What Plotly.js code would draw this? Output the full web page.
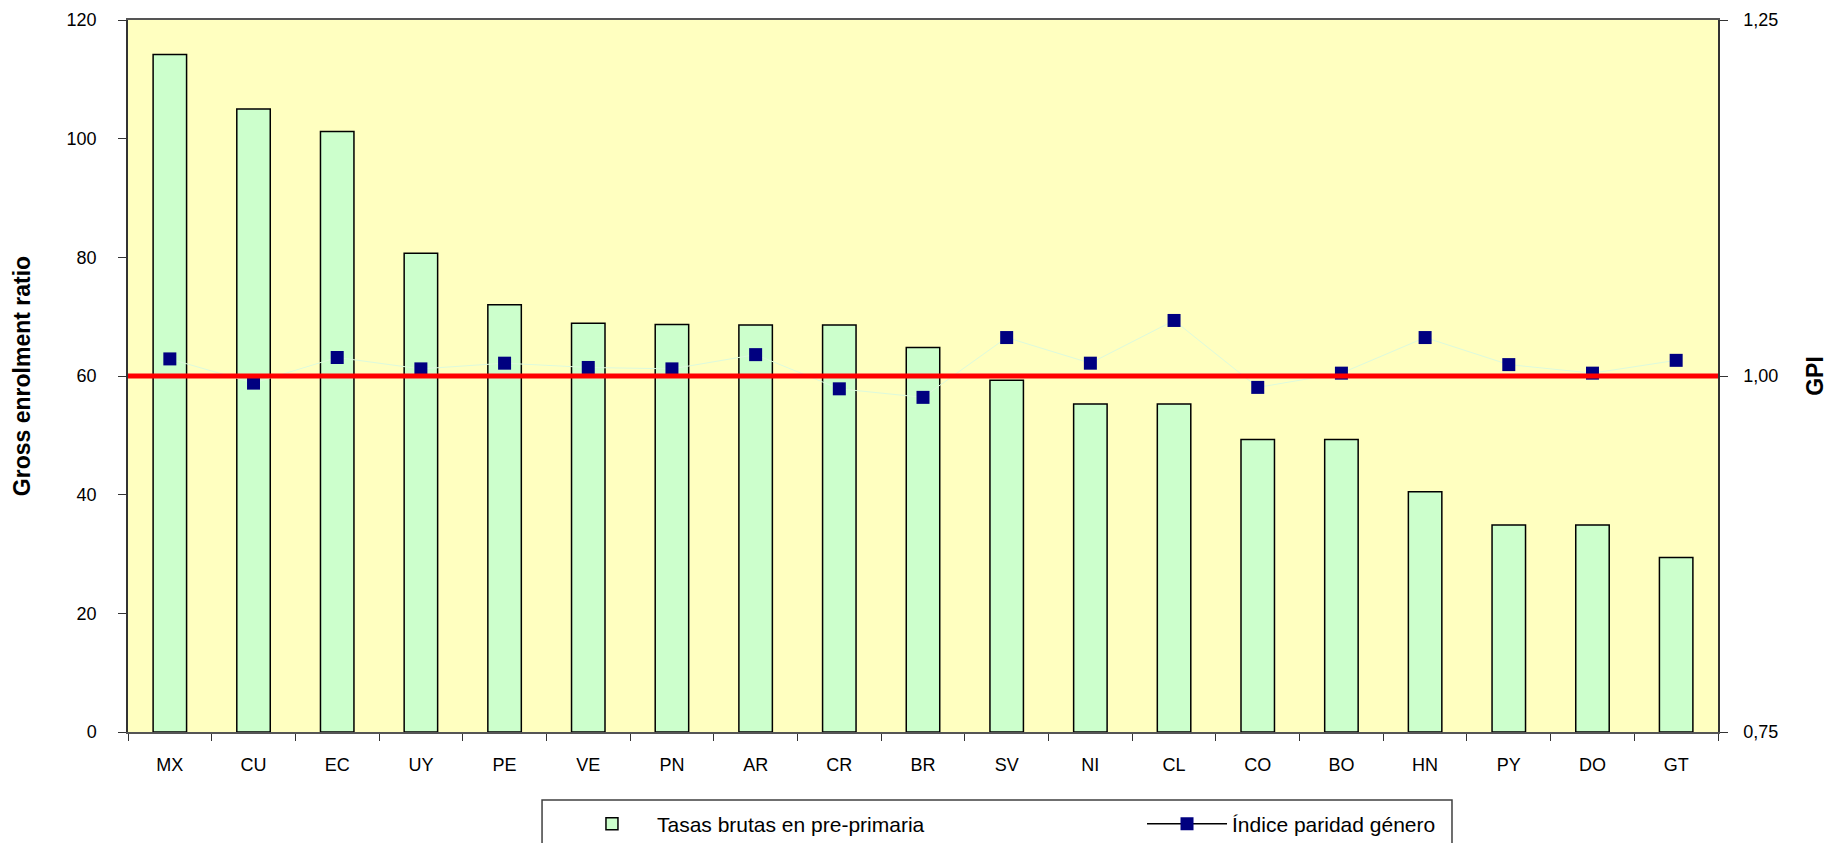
<!DOCTYPE html>
<html>
<head>
<meta charset="utf-8">
<script src="https://cdn.plot.ly/plotly-3.0.1.min.js"></script>
<style>html,body{margin:0;padding:0;background:#fff;}#chart{width:1839px;height:843px;}</style>
</head>
<body>
<div id="chart"></div>
<script>
const countries = ['MX','CU','EC','UY','PE','VE','PN','AR','CR','BR','SV','NI','CL','CO','BO','HN','PY','DO','GT'];
const enrolment = [114.2,105.0,101.2,80.7,72.0,68.9,68.7,68.6,68.6,64.8,59.3,55.3,55.3,49.3,49.3,40.5,34.9,34.9,29.4];
const gpi = [1.012,0.995,1.013,1.005,1.009,1.006,1.005,1.015,0.991,0.985,1.027,1.009,1.039,0.992,1.002,1.027,1.008,1.002,1.011];
const parityLine = 1.0;
const leftTicks = [0,20,40,60,80,100,120];
const rightTicks = [0.75,1.00,1.25];

const FONT = 'Liberation Sans, Arial, sans-serif';

const traces = [
  {
    type: 'bar', name: 'Tasas brutas en pre-primaria',
    x: countries, y: enrolment, yaxis: 'y', legend: 'legend',
    marker: {color: '#CCFFCC', line: {color: '#000000', width: 1.5}},
    hoverinfo: 'x+y'
  },
  {
    type: 'scatter', mode: 'lines+markers', name: 'Índice paridad género',
    x: countries, y: gpi, yaxis: 'y2', showlegend: false,
    line: {color: '#DDFADD', width: 1},
    marker: {symbol: 'square', size: 13, color: '#000080'}
  },
  {
    type: 'scatter', mode: 'lines+markers', name: 'Índice paridad género',
    x: [countries[0]], y: [null], yaxis: 'y2', legend: 'legend2',
    line: {color: '#000000', width: 1.5},
    marker: {symbol: 'square', size: 13, color: '#000080'}
  }
];

const legendCommon = {
  orientation: 'h', xref: 'container', yref: 'container', yanchor: 'middle', xanchor: 'left',
  bgcolor: 'rgba(0,0,0,0)', borderwidth: 0,
  font: {family: FONT, size: 21, color: '#000'}
};

const layout = {
  width: 1839, height: 843,
  margin: {l: 128, r: 121, t: 20, b: 111, autoexpand: false},
  paper_bgcolor: '#FFFFFF',
  plot_bgcolor: '#FFFFC0',
  separators: ',.',
  font: {family: FONT, size: 18, color: '#000'},
  bargap: 0.6,
  showlegend: true,
  xaxis: {
    type: 'category', categoryorder: 'array', categoryarray: countries,
    range: [-0.5, countries.length - 0.5],
    showgrid: false, zeroline: false,
    showline: true, linecolor: '#555555', linewidth: 1.5, mirror: true,
    ticks: 'outside', tickson: 'boundaries', ticklen: 7, tickcolor: '#333',
    ticklabelstandoff: 16,
    tickfont: {family: FONT, size: 18, color: '#000'}
  },
  yaxis: {
    range: [0, 120], tickvals: leftTicks, showgrid: false, zeroline: false,
    showline: true, linecolor: '#333333', linewidth: 1.5,
    ticks: 'outside', ticklen: 8, tickcolor: '#333',
    ticklabelstandoff: 18,
    tickfont: {family: FONT, size: 18, color: '#000'},
    title: {text: 'Gross enrolment ratio', standoff: 30, font: {family: FONT, size: 23, color: '#000', weight: 'bold'}}
  },
  yaxis2: {
    range: [0.75, 1.25], tickvals: rightTicks, tickformat: '.2f',
    overlaying: 'y', side: 'right', showgrid: false, zeroline: false,
    showline: true, linecolor: '#333333', linewidth: 1.5,
    ticks: 'outside', ticklen: 8, tickcolor: '#333',
    ticklabelstandoff: 12,
    tickfont: {family: FONT, size: 18, color: '#000'},
    title: {text: 'GPI', standoff: 30, font: {family: FONT, size: 23, color: '#000', weight: 'bold'}}
  },
  shapes: [
    {
      type: 'line', xref: 'paper', x0: 0, x1: 1, yref: 'y2', y0: parityLine, y1: parityLine,
      line: {color: '#FF0000', width: 5}, layer: 'above'
    },
    {
      type: 'rect', xref: 'paper', yref: 'paper', x0: 0.2604, x1: 0.8327, y0: -0.165, y1: -0.0955,
      line: {color: '#404040', width: 1.5}, fillcolor: '#FFFFFF', layer: 'above'
    }
  ],
  legend: Object.assign({}, legendCommon, {x: 0.3083, y: 0.0225, itemwidth: 80}),
  legend2: Object.assign({}, legendCommon, {x: 0.621, y: 0.0225, itemwidth: 80})
};

Plotly.newPlot('chart', traces, layout, {displayModeBar: false, responsive: false});
</script>
</body>
</html>
